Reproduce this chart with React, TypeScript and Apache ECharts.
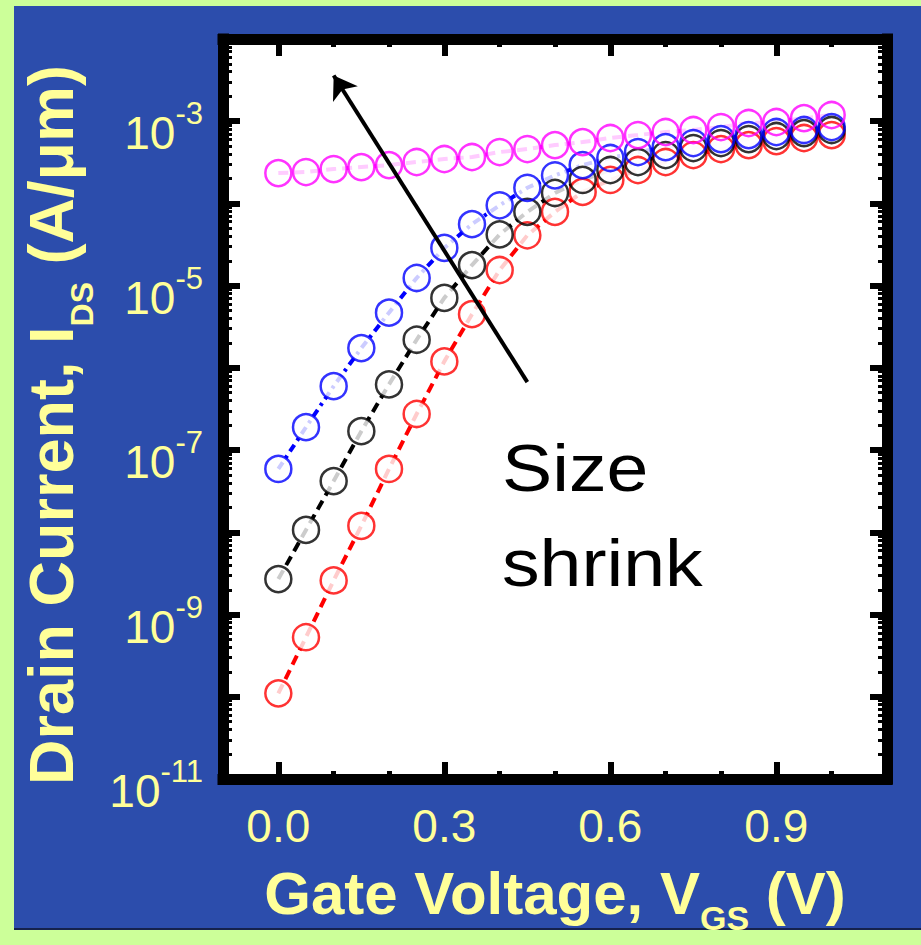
import React, { useEffect, useRef } from 'react';
import * as echarts from 'echarts';

// Gate voltage (V)
const vgs = [0, 0.05, 0.1, 0.15, 0.2, 0.25, 0.3, 0.35, 0.4, 0.45, 0.5, 0.55, 0.6, 0.65, 0.7, 0.75, 0.8, 0.85, 0.9, 0.95, 1.0];

// Drain current (A/um) for four device sizes
const currentRed = [1.1e-10, 5.3e-10, 2.6e-9, 1.2e-8, 5.9e-8, 2.75e-7, 1.2e-6, 4.5e-6, 1.55e-5, 4.1e-5, 7.9e-5, 1.38e-4, 1.93e-4, 2.55e-4, 3.19e-4, 3.88e-4, 4.59e-4, 5.13e-4, 5.74e-4, 6.25e-4, 6.79e-4];
const currentBlack = [2.7e-9, 1.07e-8, 4.2e-8, 1.7e-7, 6.3e-7, 2.2e-6, 7.1e-6, 1.78e-5, 4.2e-5, 7.9e-5, 1.34e-4, 1.93e-4, 2.55e-4, 3.19e-4, 3.88e-4, 4.72e-4, 5.43e-4, 6.07e-4, 6.61e-4, 7.18e-4, 7.82e-4];
const currentBlue = [5.9e-8, 1.9e-7, 6.0e-7, 1.74e-6, 4.7e-6, 1.24e-5, 2.88e-5, 5.6e-5, 9.5e-5, 1.55e-4, 2.2e-4, 2.93e-4, 3.57e-4, 4.22e-4, 4.85e-4, 5.43e-4, 6.07e-4, 6.79e-4, 7.39e-4, 7.82e-4, 8.5e-4];
const currentMagenta = [2.34e-4, 2.41e-4, 2.62e-4, 2.77e-4, 2.93e-4, 3.19e-4, 3.47e-4, 3.67e-4, 4.22e-4, 4.59e-4, 5.13e-4, 5.58e-4, 6.25e-4, 6.79e-4, 7.39e-4, 7.82e-4, 8.5e-4, 9.51e-4, 9.78e-4, 1.09e-3, 1.19e-3];

// Axis ticks / labels
const xMajorTicks = [0, 0.3, 0.6, 0.9];
const xMinorTicks = [0.1, 0.2, 0.4, 0.5, 0.7, 0.8, 1.0];
const yLabelTicks = [1e-11, 1e-9, 1e-7, 1e-5, 1e-3];
const yDecades = [-11, -10, -9, -8, -7, -6, -5, -4, -3];
const yMinorMultipliers = [2, 3, 4, 5, 6, 7, 8, 9];

// Annotation arrow (data coordinates)
const arrowStart = [0.45, 6.7e-7];
const arrowEnd = [0.1, 3.6e-3];
const annotationText = 'Size\nshrink';

const FONT = '"Liberation Sans", Arial, Helvetica, sans-serif';
const YELLOW = '#ffff99';

export default function App() {
  const ref = useRef<HTMLDivElement>(null);

  useEffect(() => {
    if (!ref.current) return;
    const chart = echarts.init(ref.current, undefined, { renderer: 'svg' });

    const yMajorTicks = yDecades.map((e) => Math.pow(10, e));
    const yMinorTicks: number[] = [];
    yDecades.forEach((e) => yMinorMultipliers.forEach((m) => yMinorTicks.push(m * Math.pow(10, e))));

    const frameLine = { show: true, onZero: false, lineStyle: { color: '#000', width: 11, cap: 'square' } };
    const noLine = { show: false, onZero: false };

    const defs = [
      { name: 'L1', data: currentRed, color: '#ff0000', dash: [10, 6] },
      { name: 'L2', data: currentBlack, color: '#000000', dash: [10, 6] },
      { name: 'L3', data: currentBlue, color: '#0000ff', dash: [8, 5, 3, 5] },
      { name: 'L4', data: currentMagenta, color: '#ff00ff', dash: [10, 6] },
    ];
    const pairs = (ys: number[]) => vgs.map((x, i) => [x, ys[i]]);

    const series: any[] = [];
    defs.forEach((d) => {
      series.push({
        type: 'line', name: d.name + 'line', data: pairs(d.data), showSymbol: false, symbol: 'none',
        lineStyle: { color: d.color, width: 4, type: d.dash }, z: 2, silent: true,
      });
    });
    defs.forEach((d) => {
      series.push({
        type: 'scatter', name: d.name + 'mask', data: pairs(d.data), symbol: 'circle', symbolSize: 26,
        itemStyle: { color: '#ffffff' }, z: 3, silent: true,
      });
    });
    defs.forEach((d, i) => {
      const s: any = {
        type: 'scatter', name: d.name, data: pairs(d.data), symbol: 'circle', symbolSize: 26,
        itemStyle: { color: 'rgba(0,0,0,0)', borderColor: d.color, borderWidth: 2.5 }, z: 4, silent: true,
      };
      if (i === defs.length - 1) {
        s.markLine = {
          silent: true, symbol: ['none', 'arrow'], symbolSize: 22, animation: false,
          label: { show: false },
          lineStyle: { color: '#000', width: 4, type: 'solid' },
          data: [[{ coord: arrowStart }, { coord: arrowEnd }]],
        };
      }
      series.push(s);
    });

    const option: any = {
      animation: false,
      grid: { left: 223, top: 39, width: 664, height: 740, show: true, backgroundColor: '#ffffff', borderWidth: 0, containLabel: false, outerBoundsMode: 'none' },
      xAxis: [
        {
          type: 'value', position: 'bottom', min: -0.1, max: 1.1,
          axisLine: frameLine,
          axisTick: { show: true, inside: true, length: 17, customValues: xMajorTicks, lineStyle: { color: '#000', width: 6 } },
          axisLabel: { show: true, customValues: xMajorTicks, formatter: (v: number) => v.toFixed(1), color: YELLOW, fontSize: 46, fontFamily: FONT, margin: 24 },
          splitLine: { show: false },
          name: '{m|Gate Voltage, V}{d|GS}{m| (V)}', nameLocation: 'middle', nameGap: 84,
          nameTextStyle: {
            color: YELLOW, fontFamily: FONT, fontWeight: 'bold', fontSize: 60,
            rich: {
              m: { color: YELLOW, fontFamily: FONT, fontWeight: 'bold', fontSize: 60, lineHeight: 60, verticalAlign: 'top' },
              d: { color: YELLOW, fontFamily: FONT, fontWeight: 'bold', fontSize: 34, lineHeight: 20, verticalAlign: 'top', padding: [38, 0, 0, 0] },
            },
          },
        },
        {
          type: 'value', position: 'bottom', min: -0.1, max: 1.1, axisLine: noLine,
          axisTick: { show: true, inside: true, length: 8, customValues: xMinorTicks, lineStyle: { color: '#000', width: 5 } },
          axisLabel: { show: false }, splitLine: { show: false },
        },
        {
          type: 'value', position: 'top', min: -0.1, max: 1.1, axisLine: frameLine,
          axisTick: { show: true, inside: true, length: 17, customValues: xMajorTicks, lineStyle: { color: '#000', width: 6 } },
          axisLabel: { show: false }, splitLine: { show: false },
        },
        {
          type: 'value', position: 'top', min: -0.1, max: 1.1, axisLine: noLine,
          axisTick: { show: true, inside: true, length: 8, customValues: xMinorTicks, lineStyle: { color: '#000', width: 5 } },
          axisLabel: { show: false }, splitLine: { show: false },
        },
      ],
      yAxis: [
        {
          type: 'log', logBase: 10, position: 'left', min: 1e-11, max: 1e-2,
          axisLine: frameLine,
          axisTick: { show: true, inside: true, length: 17, customValues: yMajorTicks, lineStyle: { color: '#000', width: 6 } },
          axisLabel: {
            show: true, customValues: yLabelTicks, margin: 20,
            formatter: (v: number) => '{b|10}{s|' + Math.round(Math.log10(v)) + '}',
            rich: {
              b: { color: YELLOW, fontFamily: FONT, fontSize: 46, lineHeight: 46, verticalAlign: 'top', padding: [12, 0, 0, 0] },
              s: { color: YELLOW, fontFamily: FONT, fontSize: 31, lineHeight: 30, verticalAlign: 'top' },
            },
          },
          splitLine: { show: false },
          name: '{m|Drain Current, I}{d|DS}{e| (A/μm)}', nameLocation: 'middle', nameGap: 124,
          nameTextStyle: {
            color: YELLOW, fontFamily: FONT, fontWeight: 'bold', fontSize: 63,
            rich: {
              m: { color: YELLOW, fontFamily: FONT, fontWeight: 'bold', fontSize: 63, lineHeight: 63, verticalAlign: 'top' },
              e: { color: YELLOW, fontFamily: FONT, fontWeight: 'bold', fontSize: 63, lineHeight: 63, verticalAlign: 'top', padding: [0, 32, 0, 0] },
              d: { color: YELLOW, fontFamily: FONT, fontWeight: 'bold', fontSize: 32, lineHeight: 20, verticalAlign: 'top', padding: [47, 0, 0, 0] },
            },
          },
        },
        {
          type: 'log', logBase: 10, position: 'left', min: 1e-11, max: 1e-2, axisLine: noLine,
          axisTick: { show: true, inside: true, length: 9, customValues: yMinorTicks, lineStyle: { color: '#000', width: 3 } },
          axisLabel: { show: false }, splitLine: { show: false },
        },
        {
          type: 'log', logBase: 10, position: 'right', min: 1e-11, max: 1e-2, axisLine: frameLine,
          axisTick: { show: true, inside: true, length: 17, customValues: yMajorTicks, lineStyle: { color: '#000', width: 6 } },
          axisLabel: { show: false }, splitLine: { show: false },
        },
        {
          type: 'log', logBase: 10, position: 'right', min: 1e-11, max: 1e-2, axisLine: noLine,
          axisTick: { show: true, inside: true, length: 9, customValues: yMinorTicks, lineStyle: { color: '#000', width: 3 } },
          axisLabel: { show: false }, splitLine: { show: false },
        },
      ],
      graphic: [
        {
          type: 'text', x: 502, y: 421, scaleX: 1.14, z: 10, silent: true,
          style: { text: annotationText, fill: '#000', fontFamily: FONT, fontSize: 66, lineHeight: 95, textAlign: 'left', textVerticalAlign: 'top', verticalAlign: 'top' },
        },
      ],
      series,
    };

    chart.setOption(option);
    return () => chart.dispose();
  }, []);

  return (
    <div style={{ position: 'fixed', left: 0, top: 0, width: 921, height: 945, background: '#ccff99', overflow: 'hidden' }}>
      <div style={{ position: 'absolute', left: 14, top: 6, width: 907, height: 922, background: '#2c4dac', borderBottom: '2px solid #15224d' }} />
      <div ref={ref} style={{ position: 'absolute', left: 0, top: 0, width: 921, height: 945 }} />
    </div>
  );
}
